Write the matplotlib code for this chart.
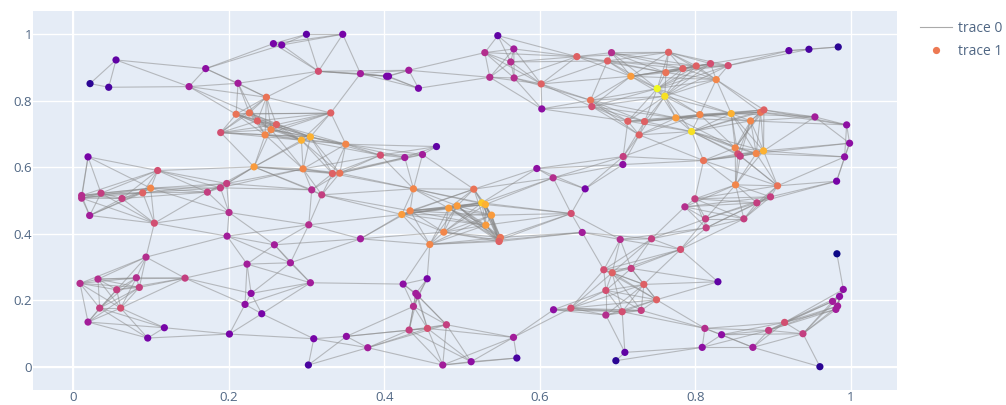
import numpy as np
import matplotlib
matplotlib.use("Agg")
import matplotlib.pyplot as plt
from matplotlib.colors import LinearSegmentedColormap
from matplotlib.collections import LineCollection

plt.rcParams['font.family'] = ['Open Sans', 'DejaVu Sans']

# Node positions
node_x = [.0215,.0455,.0549,.1489,.1703,.2119,.2574,.2681,.2999,.3466,.3153,.2484,.2094,.2265,.2368,.2613,.2544,.2467,.1896,.3312,
          .2934,.3050,.3505,.0189,.1085,.2325,.2956,.3333,.3428,.0995,.0892,.0356,.0107,.0107,.0626,.1725,.1892,.1973,.3067,.3196,
          .3694,.4030,.4055,.4316,.4440,.5461,.5294,.5667,.5628,.5358,.5671,.6019,.6027,.6478,.6873,.6924,.7173,.7512,.6654,.6671,
          .7134,.7349,.7280,.7074,.7070,.4672,.4492,.4264,.3951,.5963,.6173,.6585,.4376,.5152,
          .7610,.7658,.7623,.7842,.8014,.8198,.8425,.8271,.9206,.9464,.9841,
          .7752,.8061,.8464,.8842,.8885,.8713,.9541,.9949,.9987,.9923,.9820,.7954,.8516,.8550,.8580,.8786,.8880,.8108,.8520,.9060,.8970,.7997,.7868,.8794,
          .8134,.8627,.8142,.7036,.7439,.7812,.6825,.6933,.7177,.7340,.8293,.6851,.7503,.6851,.7061,.7306,.9824,.9906,.9858,.9768,.9833,.9811,.9151,.8945,.9387,.8125,.8340,.8091,.8743,.9605,.7096,.6980,
          .4226,.4333,.4830,.4938,.5255,.5302,.5380,.5307,.4766,.4586,.5495,.5482,.5477,.6405,.6547,.3694,.4243,.4552,.4406,.4431,.4376,.4320,.4556,.4800,.3513,.3788,.4753,.5118,.5706,.5663,.6178,.6401,
          .0210,.1042,.2003,.1978,.3029,.2587,.0935,.2235,.2793,.3050,.1437,.0086,.0317,.0811,.0849,.0558,.0339,.0609,.0189,.1171,.0957,.2008,.2287,.2209,.2424,.3093,.3024]
node_y = [.851,.840,.922,.842,.896,.852,.971,.967,.999,.999,.888,.810,.759,.763,.739,.728,.713,.697,.704,.763,
          .681,.691,.669,.631,.590,.601,.595,.581,.582,.537,.523,.522,.515,.507,.506,.525,.538,.551,.532,.517,
          .881,.873,.873,.891,.837,.995,.944,.955,.916,.870,.868,.850,.775,.932,.919,.944,.873,.836,.801,.782,
          .738,.737,.697,.632,.608,.662,.638,.629,.636,.596,.568,.535,.535,.534,
          .813,.945,.884,.896,.904,.911,.905,.863,.950,.954,.961,
          .748,.758,.761,.765,.772,.739,.751,.727,.672,.631,.558,.707,.658,.640,.633,.641,.649,.620,.547,.544,.511,.505,.481,.493,
          .445,.445,.418,.383,.385,.353,.292,.283,.296,.248,.256,.230,.202,.156,.166,.170,.340,.233,.212,.197,.183,.173,.134,.110,.100,.116,.097,.059,.059,.001,.044,.019,
          .458,.469,.477,.484,.493,.488,.456,.426,.405,.368,.389,.381,.377,.461,.404,.385,.249,.265,.221,.214,.182,.111,.116,.127,.092,.058,.006,.016,.027,.089,.172,.177,
          .455,.432,.464,.393,.427,.367,.330,.309,.313,.253,.267,.251,.264,.268,.239,.232,.177,.177,.135,.118,.087,.099,.221,.188,.160,.085,.006]
x_ticks = [0, 0.2, 0.4, 0.6, 0.8, 1]
y_ticks = [0, 0.2, 0.4, 0.6, 0.8, 1]
tick_labels = ['0', '0.2', '0.4', '0.6', '0.8', '1']
series_names = ['trace 0', 'trace 1']
link_radius = 0.125  # the longest edge length seen in the picture

X = np.array(node_x); Y = np.array(node_y)
D = np.hypot(X[:, None] - X[None, :], Y[:, None] - Y[None, :])
A = (D <= link_radius) & ~np.eye(len(X), dtype=bool)
degree = A.sum(axis=1)
I, J = np.where(np.triu(A))
segments = [[(X[i], Y[i]), (X[j], Y[j])] for i, j in zip(I, J)]

plasma = LinearSegmentedColormap.from_list('plotly_plasma',
    ['#0d0887', '#46039f', '#7201a8', '#9c179e', '#bd3786', '#d8576b', '#ed7953', '#fb9f3a', '#fdca26', '#f0f921'])

W, H = 1006, 405
fig = plt.figure(figsize=(W / 100, H / 100), dpi=100, facecolor='white')
ax = fig.add_axes([33 / W, 1 - 390 / H, (897 - 33) / W, (390 - 11) / H], facecolor='#E5ECF6')
ax.set_xlim(-0.0519, 1.0597)
ax.set_ylim(-0.069, 1.069)
for s in ax.spines.values():
    s.set_visible(False)
ax.set_xticks(x_ticks, tick_labels)
ax.set_yticks(y_ticks, tick_labels)
ax.tick_params(axis='x', length=0, labelsize=9.5, labelcolor='#506784', pad=1.0)
ax.tick_params(axis='y', length=0, labelsize=9.5, labelcolor='#506784', pad=0.5)
ax.grid(True, color='white', lw=0.95)
ax.set_axisbelow(True)
ax.axvline(0, color='white', lw=1.5, zorder=0.6)
ax.axhline(0, color='white', lw=1.5, zorder=0.6)

lc = LineCollection(segments, colors='#888888', linewidths=0.8, alpha=0.52, zorder=2)
ax.add_collection(lc)
ax.scatter(X, Y, c=degree, cmap=plasma, s=27, linewidths=0, zorder=3)

line_handle = plt.Line2D([], [], color='#aaaaaa', lw=0.8)
dot_handle = plt.Line2D([], [], ls='', marker='o', ms=5.2, color='#ed7953', mew=0)
fig.legend([line_handle, dot_handle], series_names, loc='upper left',
           bbox_to_anchor=(920 / W, 1 - 21 / H), frameon=False, fontsize=10,
           labelcolor='#506784', handlelength=2.3, handletextpad=0.42, labelspacing=0.56,
           borderpad=0, borderaxespad=0)
fig.savefig('out.png', dpi=100)
